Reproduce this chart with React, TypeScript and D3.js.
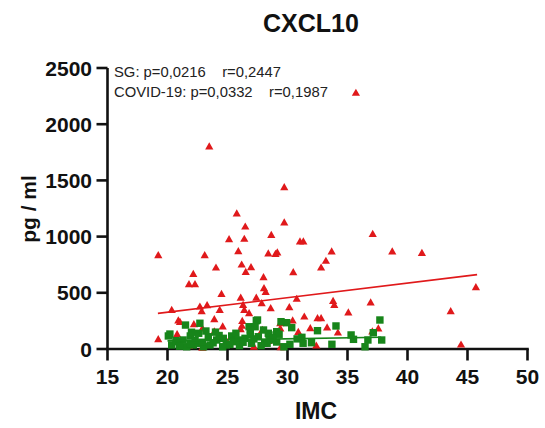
import React from "react";
import * as d3 from "d3";

const title = "CXCL10";
const xLabel = "IMC";
const yLabel = "pg / ml";
const xTicks = [15, 20, 25, 30, 35, 40, 45, 50];
const yTicks = [0, 500, 1000, 1500, 2000, 2500];
const statsLines = ["SG: p=0,0216    r=0,2447", "COVID-19: p=0,0332    r=0,1987"];

// COVID-19 (red triangles)
const covidX = [35.7, 23.48, 29.73, 25.77, 26.48, 29.73, 25.13, 26.4, 28.65, 31.04, 31.32, 19.23, 23.1, 25.9, 28.4, 29.0, 29.15, 37.1, 33.68, 33.2, 32.8, 38.73, 41.2, 45.7, 43.6, 44.46, 24.04, 22.15, 21.79, 22.29, 26.18, 26.96, 26.52, 28.0, 28.04, 28.18, 24.5, 26.1, 27.4, 20.35, 22.7, 23.3, 22.85, 24.35, 26.3, 26.4, 27.85, 20.9, 21.04, 22.2, 23.9, 22.9, 26.23, 26.2, 26.1, 23.9, 19.23, 26.8, 22.9, 30.48, 30.77, 28.6, 30.15, 33.8, 33.9, 36.93, 35.07, 29.4, 29.4, 30.43, 31.4, 32.5, 32.8, 31.9, 33.3, 37.57, 37.07, 29.43, 32.4, 28.4, 34.2, 27.9, 21.8, 24.8, 27.2, 25.6, 20.8, 24.6, 27.6, 30.9, 25.0];
const covidY = [2278, 1800, 1438, 1204, 1088, 1124, 976, 979, 1014, 955, 955, 834, 834, 869, 848, 845, 857, 1023, 866, 783, 723, 866, 854, 549, 335, 38, 723, 667, 575, 575, 750, 727, 685, 638, 540, 507, 489, 456, 456, 347, 376, 389, 335, 347, 391, 347, 406, 252, 240, 220, 264, 181, 249, 205, 175, 154, 86, 318, 10, 682, 445, 362, 371, 427, 391, 412, 323, 229, 181, 252, 287, 273, 273, 184, 190, 181, 154, 15, 29, 71, 145, 169, 27, 40, 20, 90, 130, 200, 110, 150, 60];

// SG (green squares)
const sgX = [22.7, 21.5, 20.07, 20.7, 20.35, 21.3, 21.6, 22.15, 22.57, 23.4, 23.54, 24.1, 24.65, 24.9, 25.35, 25.5, 25.9, 26.46, 26.8, 26.9, 27.5, 27.0, 27.57, 28.0, 28.1, 21.9, 22.3, 22.0, 20.2, 27.4, 27.3, 26.9, 28.46, 29.1, 29.93, 30.35, 29.46, 29.3, 28.4, 28.54, 29.1, 30.2, 31.2, 31.3, 32.0, 32.5, 33.7, 34.04, 35.3, 35.5, 36.46, 36.7, 37.15, 37.7, 37.85, 28.3, 20.76, 23.0, 26.0, 24.3, 22.9, 21.0, 22.6, 23.8, 24.6, 25.2, 26.3, 27.8, 28.8, 29.7, 30.8, 23.2, 25.7, 27.2, 21.9, 24.0];
const sgY = [229, 213, 116, 74, 36, 80, 20, 36, 51, 109, 36, 80, 95, 36, 116, 65, 80, 95, 198, 125, 258, 51, 109, 169, 51, 116, 80, 149, 133, 252, 198, 169, 125, 154, 234, 190, 243, 131, 140, 80, 62, 42, 104, 51, 56, 163, 42, 205, 125, 86, 20, 80, 145, 258, 80, 51, 65, 20, 30, 120, 60, 25, 140, 55, 20, 40, 60, 30, 100, 20, 90, 160, 140, 90, 50, 150];

// fitted regression lines (endpoints)
const covidFitX = [19.2, 45.8];
const covidFitY = [317, 662];
const sgFitX = [20.0, 37.8];
const sgFitY = [72, 105];

const RED = "#e0191b";
const GREEN = "#17851a";
const FONT = "'Liberation Sans', Arial, sans-serif";

export default function App() {
  const x = d3.scaleLinear().domain([15, 50]).range([107.5, 527.5]);
  const y = d3.scaleLinear().domain([0, 2500]).range([349, 68]);
  const tri = (cx: number, cy: number) => {
    const w = 4.1, h = 7.2;
    return `M${cx},${cy - h * 0.6}L${cx + w},${cy + h * 0.4}L${cx - w},${cy + h * 0.4}Z`;
  };
  const sq = 7.4;
  const line = d3.line<[number, number]>().x((d) => x(d[0])).y((d) => y(d[1]));
  const covidFit: [number, number][] = covidFitX.map((v, i) => [v, covidFitY[i]]);
  const sgFit: [number, number][] = sgFitX.map((v, i) => [v, sgFitY[i]]);

  return (
    <svg width={545} height={428} style={{ position: "absolute", left: 0, top: 0, background: "#fff" }} fontFamily={FONT}>
      <rect width={545} height={428} fill="#fff" />
      <text x={311} y={32} textAnchor="middle" fontSize={25} fontWeight="bold" fill="#111">{title}</text>

      {/* y axis */}
      <line x1={107.5} x2={107.5} y1={y(2500)} y2={y(0)} stroke="#111" strokeWidth={2.6} />
      {yTicks.map((t) => (
        <g key={t}>
          <line x1={96.5} x2={107.5} y1={y(t)} y2={y(t)} stroke="#111" strokeWidth={2.6} />
          <text x={92} y={y(t)} dy="0.36em" textAnchor="end" fontSize={21} fontWeight="bold" fill="#111">{t}</text>
        </g>
      ))}
      {/* x axis */}
      <line x1={x(15) - 1.3} x2={x(50) + 1.3} y1={349} y2={349} stroke="#111" strokeWidth={2.6} />
      {xTicks.map((t) => (
        <g key={t}>
          <line x1={x(t)} x2={x(t)} y1={349} y2={360.5} stroke="#111" strokeWidth={2.6} />
          <text x={x(t)} y={384} textAnchor="middle" fontSize={21} fontWeight="bold" fill="#111">{t}</text>
        </g>
      ))}
      <text x={316} y={419} textAnchor="middle" fontSize={23} fontWeight="bold" fill="#111">{xLabel}</text>
      <text transform="translate(36,209) rotate(-90)" textAnchor="middle" fontSize={21} fontWeight="bold" fill="#111">{yLabel}</text>

      {statsLines.map((s, i) => (
        <text key={i} x={114} y={77 + i * 20} fontSize={14.8} fill="#222" style={{ whiteSpace: "pre" }}>{s}</text>
      ))}

      {covidX.map((v, i) => (
        <path key={"c" + i} d={tri(x(v), y(covidY[i]))} fill={RED} />
      ))}
      {sgX.map((v, i) => (
        <rect key={"s" + i} x={x(v) - sq / 2} y={y(sgY[i]) - sq / 2} width={sq} height={sq} fill={GREEN} />
      ))}
      <path d={line(covidFit) || ""} stroke={RED} strokeWidth={1.6} fill="none" />
      <path d={line(sgFit) || ""} stroke={GREEN} strokeWidth={1.6} fill="none" />
    </svg>
  );
}
